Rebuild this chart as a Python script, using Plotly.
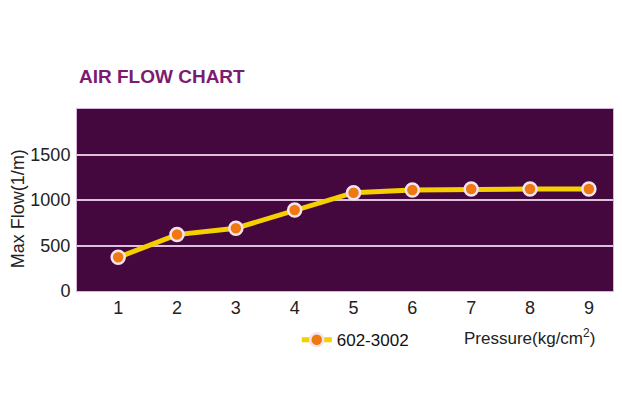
import plotly.graph_objects as go

pressure = [1, 2, 3, 4, 5, 6, 7, 8, 9]
max_flow = [370, 620, 690, 890, 1080, 1110, 1120, 1120, 1120]
series_name = '602-3002'

fig = go.Figure()

fig.add_trace(go.Scatter(
    x=pressure,
    y=max_flow,
    mode='lines+markers',
    name=series_name,
    line=dict(color='#f5cf00', width=5),
    marker=dict(size=13, color='#f07810', line=dict(color='#f4e4f0', width=2.5))
))

# the page body adds an 8px offset, so margins are shifted to compensate
fig.update_layout(
    width=622,
    height=418,
    paper_bgcolor='white',
    plot_bgcolor='#44083f',
    margin=dict(l=69, r=17, t=101, b=135),
    font=dict(family='Liberation Sans, Arial', color='#222222'),
    showlegend=True,
    legend=dict(
        orientation='h',
        x=0.41, y=-0.27,
        xanchor='left', yanchor='middle',
        bgcolor='rgba(0,0,0,0)',
        font=dict(family='Liberation Sans, Arial', size=17, color='#111111'),
        itemwidth=30
    ),
    xaxis=dict(
        range=[0.3, 9.41],
        tickvals=pressure,
        showgrid=False,
        zeroline=False,
        tickfont=dict(size=18),
        ticks='',
        automargin=False,
        showline=True, linecolor='#d8b8d8', linewidth=1, mirror=True
    ),
    yaxis=dict(
        range=[0, 2000],
        tickvals=[0, 500, 1000, 1500],
        showgrid=True,
        gridcolor='#dcc0dc',
        gridwidth=1.5,
        zeroline=False,
        tickfont=dict(size=18),
        ticks='',
        ticklabelstandoff=2,
        automargin=False,
        showline=True, linecolor='#d8b8d8', linewidth=1, mirror=True
    ),
    annotations=[
        dict(
            text='AIR FLOW CHART',
            xref='paper', yref='paper',
            x=0.0, y=1.176, xanchor='left', yanchor='middle',
            showarrow=False,
            font=dict(family='Liberation Sans, Arial', size=19, color='#7b1c70', weight='bold')
        ),
        dict(
            text='Max Flow(1/m)',
            xref='paper', yref='paper',
            x=-0.11, y=0.45, xanchor='center', yanchor='middle',
            textangle=-90,
            showarrow=False,
            font=dict(family='Liberation Sans, Arial', size=18, color='#222222')
        ),
        dict(
            text='Pressure(kg/cm<sup>2</sup>)',
            xref='paper', yref='paper',
            x=0.97, y=-0.253, xanchor='right', yanchor='middle',
            showarrow=False,
            font=dict(family='Liberation Sans, Arial', size=17, color='#222222')
        )
    ]
)

fig.write_html("out.html")
